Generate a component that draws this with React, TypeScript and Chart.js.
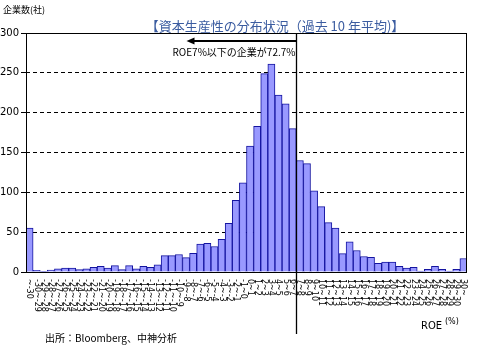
import React, { useEffect, useRef } from "react";
import { Chart, registerables } from "chart.js";

Chart.register(...registerables);

const CATEGORIES: string[] = [
  "~-30", "-30~-29", "-29~-28", "-28~-27", "-27~-26", "-26~-25", "-25~-24", "-24~-23",
  "-23~-22", "-22~-21", "-21~-20", "-20~-19", "-19~-18", "-18~-17", "-17~-16", "-16~-15",
  "-15~-14", "-14~-13", "-13~-12", "-12~-11", "-11~-10", "-10~-9", "-9~-8", "-8~-7",
  "-7~-6", "-6~-5", "-5~-4", "-4~-3", "-3~-2", "-2~-1", "-1~0", "0~1",
  "1~2", "2~3", "3~4", "4~5", "5~6", "6~7", "7~8", "8~9",
  "9~10", "10~11", "11~12", "12~13", "13~14", "14~15", "15~16", "16~17",
  "17~18", "18~19", "19~20", "20~21", "21~22", "22~23", "23~24", "24~25",
  "25~26", "26~27", "27~28", "28~29", "29~30", "30~",
];

const COMPANY_COUNTS: number[] = [
  55, 2, 0.5, 2.5, 4, 5, 5, 3,
  4, 6, 7, 5, 8, 3, 8, 4,
  7, 6, 9, 20.5, 20.5, 22, 18, 23.5,
  35, 36, 32, 41, 61, 90, 112, 158,
  183, 249, 261, 222, 211, 180, 140, 136,
  102, 82, 62, 55, 23, 38, 27, 19.5,
  18.5, 11, 12.5, 12.5, 7, 5, 6, 1,
  3.5, 7, 3.5, 1, 3.5, 17,
];

const Y_TICKS: number[] = [0, 50, 100, 150, 200, 250, 300];
const THRESHOLD_BOUNDARY = 38; // boundary after 38th category (ROE 7%)

const TITLE = "【資本生産性の分布状況（過去 10 年平均)】";
const Y_LABEL = "企業数(社)";
const ANNOTATION = "ROE7%以下の企業が72.7%";
const SOURCE = "出所：Bloomberg、中神分析";

const JP = '"Noto Sans CJK JP", "Noto Sans", sans-serif';
const NUM = '"DejaVu Sans", "Liberation Sans", sans-serif';

const decorPlugin = {
  id: "decor",
  afterDraw(chart: any) {
    const { ctx, chartArea } = chart;
    const xs = chart.scales.x;
    ctx.save();
    // plot box
    ctx.strokeStyle = "#000";
    ctx.lineWidth = 1;
    ctx.strokeRect(chartArea.left + 0.5, chartArea.top + 0.5, chartArea.right - chartArea.left - 1, chartArea.bottom - chartArea.top);

    // x labels rotated clockwise
    ctx.fillStyle = "#000";
    ctx.font = `8px ${NUM}`;
    CATEGORIES.forEach((lab, i) => {
      const x = xs.getPixelForValue(i);
      ctx.save();
      ctx.translate(x, chartArea.bottom + 7);
      ctx.rotate(Math.PI / 2);
      ctx.textAlign = "left";
      ctx.textBaseline = "middle";
      ctx.fillText(lab, 0, 0);
      ctx.restore();
    });

    // threshold line
    const lx = Math.round((xs.getPixelForValue(THRESHOLD_BOUNDARY - 1) + xs.getPixelForValue(THRESHOLD_BOUNDARY)) / 2) + 0.5;
    ctx.strokeStyle = "#000";
    ctx.lineWidth = 1.3;
    ctx.beginPath();
    ctx.moveTo(lx, chartArea.top);
    ctx.lineTo(lx, 334);
    ctx.stroke();

    // arrow
    const ay = 41;
    ctx.lineWidth = 2;
    ctx.beginPath();
    ctx.moveTo(lx, ay);
    ctx.lineTo(lx - 104, ay);
    ctx.stroke();
    ctx.fillStyle = "#000";
    ctx.beginPath();
    ctx.moveTo(lx - 110, ay);
    ctx.lineTo(lx - 102, ay - 3.5);
    ctx.lineTo(lx - 102, ay + 3.5);
    ctx.closePath();
    ctx.fill();

    ctx.font = `10px ${JP}`;
    ctx.textAlign = "right";
    ctx.textBaseline = "middle";
    ctx.fillText(ANNOTATION, lx - 1, 52);

    // title
    ctx.fillStyle = "#3b5ca0";
    ctx.font = `13px ${JP}`;
    ctx.textAlign = "center";
    ctx.textBaseline = "middle";
    ctx.fillText(TITLE, 275, 26);

    // y label
    ctx.fillStyle = "#000";
    ctx.font = `9px ${JP}`;
    ctx.textAlign = "left";
    ctx.fillText(Y_LABEL, 3, 10);

    // x axis unit
    ctx.font = `10px ${NUM}`;
    ctx.textAlign = "left";
    ctx.fillText("ROE", 421, 326);
    ctx.font = `8px ${NUM}`;
    ctx.fillText("(%)", 445, 322);

    // source
    ctx.font = `10px ${JP}`;
    ctx.fillText(SOURCE, 45, 338);
    ctx.restore();
  },
};

export default function App() {
  const ref = useRef<HTMLCanvasElement | null>(null);
  useEffect(() => {
    if (!ref.current) return;
    const chart = new Chart(ref.current, {
      type: "bar",
      data: {
        labels: CATEGORIES,
        datasets: [
          {
            data: COMPANY_COUNTS,
            backgroundColor: "#9999ff",
            borderColor: "#1414a0",
            borderWidth: 1,
            barPercentage: 1,
            categoryPercentage: 1,
          },
        ],
      },
      options: {
        animation: false,
        responsive: false,
        maintainAspectRatio: false,
        layout: { padding: { top: 33, right: 13, left: 0, bottom: 0 } },
        plugins: { legend: { display: false }, tooltip: { enabled: false }, title: { display: false } },
        scales: {
          x: {
            grid: { display: false },
            border: { display: false },
            ticks: { display: false },
            afterFit: (s: any) => {
              s.height = 79;
            },
          },
          y: {
            min: 0,
            max: 300,
            afterBuildTicks: (s: any) => {
              s.ticks = Y_TICKS.map((v) => ({ value: v }));
            },
            afterFit: (s: any) => {
              s.width = 26;
            },
            border: { display: false, dash: [4, 3] },
            grid: {
              color: (c: any) => (c.tick && (c.tick.value === 0 || c.tick.value === 300) ? "rgba(0,0,0,0)" : "#000"),
              tickColor: "#000",
              tickLength: 5,
              tickBorderDash: [],
              lineWidth: 1,
            } as any,
            ticks: {
              color: "#000",
              font: { size: 10, family: NUM },
              padding: 2,
            },
          },
        },
      },
      plugins: [decorPlugin],
    } as any);
    return () => chart.destroy();
  }, []);
  return (
    <div style={{ position: "fixed", left: 0, top: 0, width: 480, height: 351, background: "#fff" }}>
      <canvas ref={ref} width={480} height={351} style={{ width: 480, height: 351 }} />
    </div>
  );
}
